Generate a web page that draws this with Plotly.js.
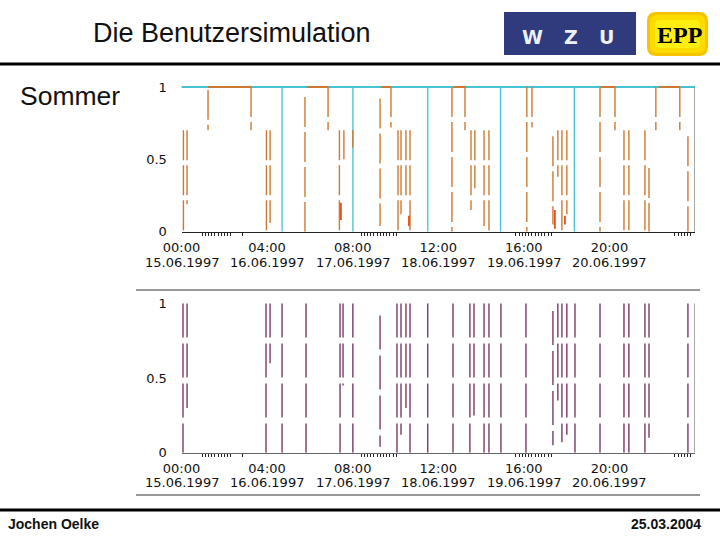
<!DOCTYPE html>
<html>
<head>
<meta charset="utf-8">
<script src="https://cdn.plot.ly/plotly-3.0.1.min.js"></script>
<style>
  html, body { margin: 0; padding: 0; background: #fff; }
  #chart { width: 720px; height: 540px; }
</style>
</head>
<body>
<div id="chart"></div>
<script>
// Benutzersimulation Sommer: two event plots over one day (hours 0..24)
const hourTicks = [0, 4, 8, 12, 16, 20];
const timeLabels = ["00:00", "04:00", "08:00", "12:00", "16:00", "20:00"];
const dateLabels = ["15.06.1997", "16.06.1997", "17.06.1997", "18.06.1997", "19.06.1997", "20.06.1997"];
const yTicks = [0, 0.5, 1];
const yTickText = ["0", "0.5", "1"];

// top chart, orange switching events: time (h), upper and lower level
const orangeX  = [0.09, 0.26, 1.24, 3.25, 3.97, 4.14, 5.77, 6.85, 7.38, 7.59, 8.01, 9.28, 9.79, 10.12, 10.26, 10.49, 10.68,
                  12.64, 13.25, 13.53, 13.71, 14.14, 14.37, 16.14, 16.38, 17.36, 17.59, 17.78, 18.01, 19.56, 20.26,
                  20.68, 20.91, 21.66, 21.85, 22.17, 23.29, 23.67];
const orangeHi = [0.7, 0.7, 0.98, 1, 0.7, 0.7, 0.93, 1, 0.7, 0.7, 0.7, 0.92, 1, 0.7, 0.7, 0.7, 0.7,
                  1, 1, 0.7, 0.7, 0.7, 0.7, 1, 1, 0.66, 0.7, 0.7, 0.7, 1, 1,
                  0.7, 0.7, 0.7, 0.44, 1, 1, 0.66];
const orangeLo = [0, 0.19, 0.7, 0.7, 0, 0.06, 0, 0.7, 0, 0.5, 0.58, 0.04, 0.72, 0, 0.12, 0.24, 0,
                  0, 0.7, 0.15, 0.3, 0.04, 0, 0, 0.72, 0.05, 0.38, 0, 0.12, 0, 0.7,
                  0, 0, 0, 0, 0.7, 0.7, 0];
// orange periods at full level
const plateauStart = [1.24, 5.86, 9.32, 12.73, 19.6, 22.31];
const plateauEnd   = [3.25, 6.85, 9.79, 13.25, 20.26, 23.29];
// cyan series drops
const cyanDropX = [4.70, 8.01, 11.51, 14.91, 18.36];
// short red pieces near zero
const redX  = [7.45, 10.63, 17.45, 17.92];
const redHi = [0.2, 0.11, 0.15, 0.11];
const redLo = [0.08, 0.04, 0.02, 0.05];

// bottom chart, purple events
const purpleX  = [0.07, 0.26, 3.95, 4.14, 4.70, 5.82, 7.41, 7.55, 8.01, 9.28, 10.07, 10.26, 10.49, 10.68, 11.51,
                  12.69, 13.48, 13.67, 14.14, 14.37, 14.93, 16.1, 17.36, 17.59, 17.78, 18.01, 18.39, 19.56,
                  20.68, 20.91, 21.66, 21.85, 23.67];
const purpleHi = [1, 1, 1, 1, 1, 1, 1, 1, 1, 0.92, 1, 1, 1, 1, 1,
                  1, 1, 1, 1, 1, 1, 1, 0.95, 1, 1, 1, 1, 1,
                  1, 1, 1, 1, 1];
const purpleLo = [0, 0.3, 0, 0.6, 0, 0, 0, 0.45, 0, 0.04, 0, 0.12, 0.3, 0, 0,
                  0, 0, 0.25, 0, 0, 0, 0, 0.05, 0.35, 0.07, 0.12, 0, 0,
                  0, 0, 0, 0.1, 0];

// clusters of small ticks under the time axis
const minorClusters = [[0.96, 2.41], [8.39, 10.12], [15.63, 17.36], [23.06, 23.9]];
const minorSingle = [2.87];

const W = 720, H = 540;
const px = v => v / W;
const py = v => 1 - v / H;

function verticals(xs, hi, lo) {
  const x = [], y = [];
  xs.forEach((t, i) => { x.push(t, t, null); y.push(hi[i], lo[i], null); });
  return { x, y };
}
function horizontals(a, b, level) {
  const x = [], y = [];
  a.forEach((t, i) => { x.push(t, b[i], null); y.push(level, level, null); });
  return { x, y };
}

const minorTicks = [...minorSingle];
minorClusters.forEach(([a, b]) => { for (let t = a; t <= b + 1e-6; t += 0.15) minorTicks.push(+t.toFixed(2)); });

const orange = "#CB7A33", cyan = "#45C2D4", purple = "#6D2B58", red = "#E5501E";
const tickFont = { family: "DejaVu Sans", size: 13, color: "#111" };

const ov = verticals(orangeX, orangeHi, orangeLo);
const op = horizontals(plateauStart, plateauEnd, 1);
const cv = verticals(cyanDropX, cyanDropX.map(() => 1), cyanDropX.map(() => 0));
const rv = verticals(redX, redHi, redLo);
const pv = verticals(purpleX, purpleHi, purpleLo);

const traces = [
  { x: [0, 24], y: [1, 1], mode: "lines", line: { color: cyan, width: 2 }, xaxis: "x", yaxis: "y", hoverinfo: "skip" },
  { x: cv.x, y: cv.y, mode: "lines", line: { color: cyan, width: 1.3 }, xaxis: "x", yaxis: "y", hoverinfo: "skip" },
  { x: ov.x, y: ov.y, mode: "lines", line: { color: orange, width: 1.4, dash: "30px,5px" }, xaxis: "x", yaxis: "y", hoverinfo: "skip" },
  { x: op.x, y: op.y, mode: "lines", line: { color: orange, width: 2 }, xaxis: "x", yaxis: "y", hoverinfo: "skip" },
  { x: rv.x, y: rv.y, mode: "lines", line: { color: red, width: 1.8 }, xaxis: "x", yaxis: "y", hoverinfo: "skip" },
  { x: pv.x, y: pv.y, mode: "lines", line: { color: purple, width: 1.3, dash: "34px,6px" }, xaxis: "x2", yaxis: "y2", hoverinfo: "skip" }
];

function timeAxis(anchor, lineColor) {
  return {
    domain: [px(181.5), px(695)], range: [0, 24], anchor: anchor,
    tickmode: "array", tickvals: hourTicks, ticktext: timeLabels,
    ticks: "outside", ticklen: 3, tickcolor: "rgba(0,0,0,0)", tickfont: tickFont,
    minor: { tickmode: "array", tickvals: minorTicks, ticks: "outside", ticklen: 3, tickwidth: 1, tickcolor: "#222", showgrid: false },
    showline: true, linecolor: lineColor, linewidth: 1.5,
    showgrid: false, zeroline: false, fixedrange: true
  };
}
function levelAxis(anchor, dom) {
  return {
    domain: dom, range: [0, 1.01], anchor: anchor,
    tickmode: "array", tickvals: yTicks, ticktext: yTickText,
    ticks: "outside", ticklen: 11, tickcolor: "rgba(0,0,0,0)", tickfont: tickFont,
    showline: false, showgrid: false, zeroline: false, fixedrange: true
  };
}

function roundRect(x0, y0, x1, y1, r) {
  const X = v => px(v).toFixed(4), Y = v => py(v).toFixed(4);
  return `M${X(x0 + r)},${Y(y0)} L${X(x1 - r)},${Y(y0)} Q${X(x1)},${Y(y0)} ${X(x1)},${Y(y0 + r)} ` +
         `L${X(x1)},${Y(y1 - r)} Q${X(x1)},${Y(y1)} ${X(x1 - r)},${Y(y1)} L${X(x0 + r)},${Y(y1)} ` +
         `Q${X(x0)},${Y(y1)} ${X(x0)},${Y(y1 - r)} L${X(x0)},${Y(y0 + r)} Q${X(x0)},${Y(y0)} ${X(x0 + r)},${Y(y0)} Z`;
}

const shapes = [
  // slide rules
  { type: "line", xref: "paper", yref: "paper", x0: 0, x1: 1, y0: py(64), y1: py(64), line: { color: "#000", width: 3 } },
  { type: "line", xref: "paper", yref: "paper", x0: 0, x1: 1, y0: py(510), y1: py(510), line: { color: "#000", width: 3 } },
  { type: "line", xref: "paper", yref: "paper", x0: px(136), x1: px(700), y0: py(290), y1: py(290), line: { color: "#333", width: 1 } },
  { type: "line", xref: "paper", yref: "paper", x0: px(136), x1: px(700), y0: py(495), y1: py(495), line: { color: "#333", width: 1 } },
  // plot frames
  { type: "line", xref: "x", yref: "y", x0: 0, x1: 24, y0: 1, y1: 1, line: { color: "#8a8a8a", width: 1.5 }, layer: "below" },
  { type: "line", xref: "x", yref: "y", x0: 24, x1: 24, y0: 0, y1: 1, line: { color: "#8a8a8a", width: 1.5 }, layer: "below" },
  { type: "line", xref: "x2", yref: "y2", x0: 24, x1: 24, y0: 0, y1: 1, line: { color: "#8a8a8a", width: 1.5 }, layer: "below" },
  // logos
  { type: "rect", xref: "paper", yref: "paper", x0: px(504), x1: px(636), y0: py(55), y1: py(12), fillcolor: "#2F3B7D", line: { width: 0 } },
  { type: "path", xref: "paper", yref: "paper", path: roundRect(647, 12, 708, 56, 9), fillcolor: "#F6C400", line: { width: 0 } },
  { type: "path", xref: "paper", yref: "paper", path: roundRect(650, 15, 705, 53, 7), fillcolor: "#FCDC00", line: { width: 0 } },
  { type: "path", xref: "paper", yref: "paper", path: roundRect(655, 20, 700, 48, 5), fillcolor: "#FFEE10", line: { width: 0 } }
];

const annotations = [
  { text: "Die Benutzersimulation", x: px(232), y: py(33), font: { family: "Liberation Sans", size: 27, color: "#111" } },
  { text: "Sommer", x: px(70), y: py(96), font: { family: "Liberation Sans", size: 26.5, color: "#111" } },
  { text: "W", x: px(532), y: py(37), font: { family: "DejaVu Sans", size: 19, color: "#eef0f6", weight: "bold" } },
  { text: "Z", x: px(571), y: py(37), font: { family: "DejaVu Sans", size: 19, color: "#eef0f6", weight: "bold" } },
  { text: "U", x: px(606), y: py(37), font: { family: "DejaVu Sans", size: 19, color: "#eef0f6", weight: "bold" } },
  { text: "<b>EPP</b>", x: px(679), y: py(35), font: { family: "Liberation Serif", size: 24, color: "#000" } },
  { text: "<b>Jochen Oelke</b>", x: px(6), y: py(524), xanchor: "left", font: { family: "Liberation Sans", size: 14, color: "#111" } },
  { text: "<b>25.03.2004</b>", x: px(703), y: py(524), xanchor: "right", font: { family: "Liberation Sans", size: 14, color: "#111" } }
].map(a => Object.assign({ xref: "paper", yref: "paper", showarrow: false, xanchor: "center", yanchor: "middle" }, a));

hourTicks.forEach((t, i) => {
  annotations.push({ text: dateLabels[i], x: t, xref: "x", y: py(262), yref: "paper", showarrow: false,
    xanchor: "center", yanchor: "middle", font: tickFont });
  annotations.push({ text: dateLabels[i], x: t, xref: "x2", y: py(482), yref: "paper", showarrow: false,
    xanchor: "center", yanchor: "middle", font: tickFont });
});

const layout = {
  width: W, height: H,
  margin: { l: 0, r: 0, t: 0, b: 0 },
  paper_bgcolor: "#fff", plot_bgcolor: "rgba(0,0,0,0)",
  showlegend: false,
  xaxis: timeAxis("y", "#222"),
  yaxis: levelAxis("x", [py(231.7), py(85.5)]),
  xaxis2: timeAxis("y2", "#666"),
  yaxis2: levelAxis("x2", [py(452.7), py(302)]),
  shapes: shapes,
  annotations: annotations
};

Plotly.newPlot("chart", traces, layout, { displayModeBar: false, staticPlot: true });
</script>
</body>
</html>
